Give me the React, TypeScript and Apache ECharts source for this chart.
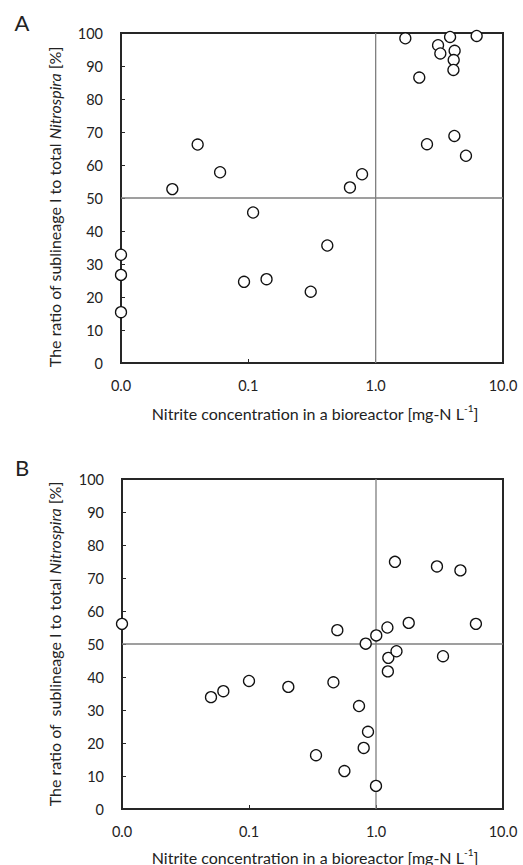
import React, { useEffect, useRef } from "react";
import * as echarts from "echarts";

// Panel A
const nitriteA = [0.01, 0.01, 0.01, 0.0253, 0.04, 0.06, 0.0925, 0.109, 0.139, 0.309, 0.417, 0.628, 0.782, 1.71, 2.2, 2.53, 3.09, 3.22, 3.84, 4.17, 4.1, 4.08, 4.15, 5.12, 6.21];
const ratioA = [32.8, 26.7, 15.4, 52.7, 66.2, 57.8, 24.6, 45.6, 25.4, 21.6, 35.6, 53.2, 57.2, 98.4, 86.5, 66.3, 96.3, 93.8, 98.8, 94.6, 91.8, 88.8, 68.8, 62.8, 99.1];

// Panel B
const nitriteB = [0.01, 0.0502, 0.0628, 0.1, 0.204, 0.337, 0.462, 0.496, 0.564, 0.735, 0.83, 0.8, 0.865, 1.0, 1.005, 1.23, 1.25, 1.24, 1.41, 1.45, 1.81, 3.02, 3.37, 4.62, 6.12];
const ratioB = [56.1, 33.9, 35.7, 38.8, 37.0, 16.3, 38.4, 54.2, 11.5, 31.2, 50.1, 18.5, 23.4, 7.0, 52.6, 55.0, 45.8, 41.7, 74.9, 47.8, 56.4, 73.5, 46.3, 72.3, 56.1];

const xMin = 0.01;
const xMax = 10;
const yMin = 0;
const yMax = 100;
const yStep = 10;
const refX = 1;
const refY = 50;

const xTitle = "Nitrite concentration in a bioreactor [mg-N L{sup|-1}]";
const yTitleA = "The ratio of sublineage I to total {it|Nitrospira} [%]";
const yTitleB = "The ratio of  sublineage I to total {it|Nitrospira} [%]";
const panelLabels = ["A", "B"];

const FONT = "Lato, 'Open Sans', sans-serif";
const TXT = "#222";
const AX = "#262626";
const TICK_FS = 14.5;
const TITLE_FS = 16;

export default function App() {
  const ref = useRef<HTMLDivElement>(null);
  useEffect(() => {
    document.body.style.margin = "0";
    const chart = echarts.init(ref.current!, null, { renderer: "svg" });
    const grids = [
      { left: 121, top: 33, width: 382, height: 330 },
      { left: 122, top: 479, width: 381, height: 330 },
    ];
    const xAxes = grids.map((_, i) => ({
      type: "log",
      logBase: 10,
      gridIndex: i,
      min: xMin,
      max: xMax,
      axisLine: { show: true, onZero: false, lineStyle: { color: AX, width: 2 } },
      axisTick: { show: true, inside: true, length: 4, lineStyle: { color: AX, width: 1 } },
      axisLabel: {
        margin: 15,
        fontSize: TICK_FS,
        fontFamily: FONT,
        color: TXT,
        formatter: (v: number) => Number(v).toFixed(1),
      },
      splitLine: { show: false },
      minorTick: { show: false },
    }));
    const yAxes = grids.map((_, i) => ({
      type: "value",
      gridIndex: i,
      min: yMin,
      max: yMax,
      interval: yStep,
      axisLine: { show: true, lineStyle: { color: AX, width: 2 } },
      axisTick: { show: true, inside: true, length: 4, lineStyle: { color: AX, width: 1 } },
      axisLabel: { margin: 18, fontSize: TICK_FS, fontFamily: FONT, color: TXT },
      splitLine: { show: false },
    }));
    const data = [
      nitriteA.map((x, i) => [x, ratioA[i]]),
      nitriteB.map((x, i) => [x, ratioB[i]]),
    ];
    const series: any[] = [];
    [0, 1].forEach((i) => {
      series.push({
        type: "line",
        xAxisIndex: i,
        yAxisIndex: i,
        data: [[refX, yMin], [refX, yMax]],
        symbol: "none",
        lineStyle: { color: "#7f7f7f", width: 1.3 },
        silent: true,
        z: 1,
      });
      series.push({
        type: "line",
        xAxisIndex: i,
        yAxisIndex: i,
        data: [[xMin, refY], [xMax, refY]],
        symbol: "none",
        lineStyle: { color: "#7f7f7f", width: 1.3 },
        silent: true,
        z: 1,
      });
      series.push({
        type: "scatter",
        xAxisIndex: i,
        yAxisIndex: i,
        data: data[i],
        symbol: "circle",
        symbolSize: 11,
        clip: false,
        itemStyle: { color: "#fff", borderColor: "#111", borderWidth: 1.3, opacity: 1 },
        z: 5,
      });
    });
    const yCenters = [207, 644];
    const xTitleY = [413, 857];
    const letterY = [22, 467];
    const graphic: any[] = [];
    [0, 1].forEach((i) => {
      graphic.push({
        type: "text",
        x: 22,
        y: letterY[i],
        style: {
          text: panelLabels[i],
          font: `22px ${FONT}`,
          fill: TXT,
          align: "center",
          verticalAlign: "middle",
        },
      });
      graphic.push({
        type: "text",
        x: 54,
        y: yCenters[i],
        rotation: Math.PI / 2,
        style: {
          text: i === 0 ? yTitleA : yTitleB,
          fontSize: TITLE_FS,
          fontFamily: FONT,
          fill: TXT,
          align: "center",
          verticalAlign: "middle",
          rich: {
            it: { fontSize: TITLE_FS, fontFamily: FONT, fontStyle: "italic", fill: TXT },
          },
        },
      });
      graphic.push({
        type: "text",
        x: 315,
        y: xTitleY[i],
        style: {
          text: xTitle,
          fontSize: TITLE_FS,
          fontFamily: FONT,
          fill: TXT,
          lineHeight: 20,
          align: "center",
          verticalAlign: "middle",
          rich: {
            sup: { fontSize: 10, fontFamily: FONT, fill: TXT, verticalAlign: "top", lineHeight: 11 },
          },
        },
      });
    });
    chart.setOption({
      animation: false,
      backgroundColor: "#fff",
      grid: grids.map((g) => ({ ...g, show: true, borderColor: AX, borderWidth: 2, backgroundColor: "transparent" })),
      xAxis: xAxes,
      yAxis: yAxes,
      series,
      graphic,
    });
    return () => chart.dispose();
  }, []);
  return <div ref={ref} style={{ width: 523, height: 865 }} />;
}
